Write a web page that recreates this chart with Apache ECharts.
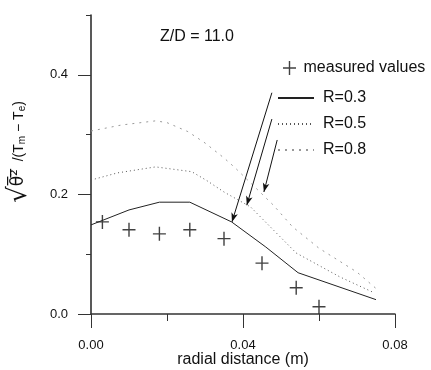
<!DOCTYPE html>
<html lang="en">
<head>
    <meta charset="UTF-8">
    <title>Z/D = 11.0</title>
    <style>
        body{ margin: 0; background: #fff; }
        #main{ width: 431px; height: 370px; }
    </style>
</head>
<body>
    <div id="main"></div>
    <script src="https://cdn.jsdelivr.net/npm/echarts@6/dist/echarts.min.js"></script>
    <script>
        // measured values (+)
        var measX = [0.003, 0.010, 0.018, 0.026, 0.035, 0.045, 0.054, 0.060];
        var measY = [0.154, 0.141, 0.134, 0.141, 0.126, 0.085, 0.044, 0.012];
        // computed curves
        var r03X = [0, 0.010, 0.018, 0.026, 0.037, 0.046, 0.0545, 0.075];
        var r03Y = [0.149, 0.174, 0.187, 0.187, 0.154, 0.112, 0.069, 0.024];
        var r05X = [0, 0.007, 0.017, 0.0265, 0.0305, 0.035, 0.042, 0.054, 0.0655, 0.074];
        var r05Y = [0.224, 0.236, 0.246, 0.238, 0.223, 0.204, 0.179, 0.102, 0.062, 0.037];
        var r08X = [0, 0.008, 0.017, 0.020, 0.0255, 0.030, 0.035, 0.038, 0.048, 0.053, 0.060, 0.070, 0.0755];
        var r08Y = [0.306, 0.316, 0.323, 0.320, 0.305, 0.286, 0.261, 0.244, 0.182, 0.146, 0.110, 0.070, 0.040];
        // arrows from legend to curves: [x0, y0, x1, y1]
        var arrow03 = [0.0476, 0.370, 0.0371, 0.154];
        var arrow05 = [0.0476, 0.326, 0.0410, 0.182];
        var arrow08 = [0.0490, 0.291, 0.0455, 0.204];
        var yTicks = [0, 0.2, 0.4];

        function pairs(xs, ys){
            return xs.map(function(x, i){ return [x, ys[i]]; });
        }
        function arrow(a){
            return {
                silent: true,
                symbol: ['none', 'arrow'],
                symbolSize: [5, 9],
                label: { show: false },
                lineStyle: { color: '#111', width: 1, type: 'solid' },
                data: [[{ coord: [a[0], a[1]] }, { coord: [a[2], a[3]] }]]
            };
        }

        var mychart = echarts.init(document.getElementById('main'));
        var font = 'Liberation Sans, Arial, sans-serif';
        var plus = 'path://M0,6.3H13V7.7H0ZM5.8,0H7.2V14H5.8Z';

        var option = {
            animation: false,
            textStyle: { fontFamily: font },
            title: {
                text: 'Z/D = 11.0',
                left: 155, top: 24,
                textStyle: { fontSize: 16, fontWeight: 'normal', color: '#111', fontFamily: font }
            },
            // y axis name drawn as rotated rich text
            graphic: [{
                type: 'text',
                x: 19, y: 152,
                rotation: Math.PI / 2,
                style: {
                    text: '{r|√}{o|θ̅²̅}{t|  /(T}{s|m}{t| − T}{s|e}{t|)}',
                    align: 'center', verticalAlign: 'middle',
                    fill: '#111',
                    rich: {
                        r: { fontSize: 26, fontFamily: 'DejaVu Sans', fill: '#111' },
                        o: { fontSize: 17, fontFamily: 'DejaVu Sans', fill: '#111' },
                        t: { fontSize: 14, fontFamily: font, fill: '#111' },
                        s: { fontSize: 10, fontFamily: font, fill: '#111', padding: [7, 0, 0, 0] }
                    }
                }
            }],
            legend: [{
                data: ['measured values'],
                left: 278, top: 55,
                itemWidth: 14, itemHeight: 14,
                textStyle: { fontSize: 16, color: '#111', padding: [0, 0, 0, 2] }
            }, {
                data: ['R=0.3', 'R=0.5', 'R=0.8'],
                orient: 'vertical',
                left: 272, top: 85,
                itemWidth: 36, itemHeight: 14, itemGap: 10,
                itemStyle: { opacity: 0 },
                textStyle: { fontSize: 16, color: '#111', padding: [0, 0, 0, 4] }
            }],
            grid: { left: 91, right: 36, top: 15, bottom: 56, outerBoundsMode: 'none' },
            xAxis: [{
                type: 'value', min: 0, max: 0.08, interval: 0.04,
                name: 'radial distance (m)', nameLocation: 'middle', nameGap: 38,
                nameMoveOverlap: false,
                nameTextStyle: { fontSize: 16, color: '#111' },
                axisLine: { lineStyle: { color: '#333', width: 1.5 } },
                axisTick: { length: 14, lineStyle: { color: '#333' } },
                axisLabel: { margin: 25, fontSize: 13, color: '#111', formatter: function(v){ return v.toFixed(2); } },
                splitLine: { show: false }
            }, {
                type: 'value', min: 0, max: 0.08, interval: 0.02, position: 'bottom',
                axisLine: { show: false },
                axisTick: { length: 7, lineStyle: { color: '#333' } },
                axisLabel: { show: false },
                splitLine: { show: false }
            }],
            yAxis: [{
                type: 'value', min: 0, max: 0.5, interval: 0.2,
                axisLine: { lineStyle: { color: '#222', width: 1.5 } },
                axisTick: { length: 13, customValues: yTicks, lineStyle: { color: '#333' } },
                axisLabel: {
                    margin: 23, fontSize: 13, color: '#111', customValues: yTicks,
                    formatter: function(v){ return v > 0.45 ? '' : v.toFixed(1); }
                },
                splitLine: { show: false }
            }, {
                type: 'value', min: 0, max: 0.5, interval: 0.1, position: 'left',
                axisLine: { show: false },
                axisTick: { length: 5, lineStyle: { color: '#333' } },
                axisLabel: { show: false },
                splitLine: { show: false }
            }],
            series: [{
                name: 'measured values',
                type: 'scatter',
                symbol: plus,
                symbolSize: [13, 14],
                itemStyle: { color: '#111' },
                data: pairs(measX, measY)
            }, {
                name: 'R=0.3',
                type: 'line',
                symbol: 'none',
                lineStyle: { color: '#222', width: 1, type: 'solid' },
                itemStyle: { color: '#222' },
                data: pairs(r03X, r03Y),
                markLine: arrow(arrow03)
            }, {
                name: 'R=0.5',
                type: 'line',
                symbol: 'none',
                lineStyle: { color: '#555', width: 1, type: [1, 3] },
                itemStyle: { color: '#555' },
                data: pairs(r05X, r05Y),
                markLine: arrow(arrow05)
            }, {
                name: 'R=0.8',
                type: 'line',
                symbol: 'none',
                lineStyle: { color: '#999', width: 1, type: [2, 5] },
                itemStyle: { color: '#999' },
                data: pairs(r08X, r08Y),
                markLine: arrow(arrow08)
            }]
        };
        option && mychart.setOption(option);
    </script>
</body>
</html>
